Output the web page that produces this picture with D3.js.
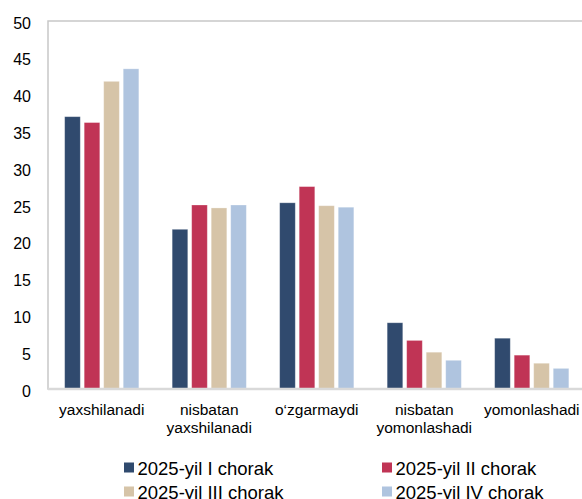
<!DOCTYPE html>
<html><head><meta charset="utf-8">
<script src="https://cdn.jsdelivr.net/npm/d3@7"></script>
<style>body{margin:0;background:#fff;overflow:hidden}svg{display:block}</style>
</head><body>
<script>
const categories = [["yaxshilanadi"],["nisbatan","yaxshilanadi"],["o‘zgarmaydi"],["nisbatan","yomonlashadi"],["yomonlashadi"]];
const seriesNames = ["2025-yil I chorak","2025-yil II chorak","2025-yil III chorak","2025-yil IV chorak"];
const colors = ["#304a6e","#c03455","#d6c4a8","#afc4df"];
const s1 = [37.0, 21.7, 25.3, 9.0, 6.9];
const s2 = [36.2, 25.0, 27.5, 6.6, 4.6];
const s3 = [41.8, 24.6, 24.9, 5.0, 3.5];
const s4 = [43.5, 25.0, 24.7, 3.9, 2.8];
const series = [s1, s2, s3, s4];
const yTicks = [0,5,10,15,20,25,30,35,40,45,50];

const W = 582, H = 499;
const svg = d3.select("body").append("svg").attr("width", W).attr("height", H);
const font = "Liberation Sans, Arial, sans-serif";
const pL = 48, pR = 585.5, pT = 21, pB = 389;

const x0 = d3.scaleBand().domain(categories.map((d,i)=>i)).range([pL, pR]).paddingInner(0.31).paddingOuter(0.155);
const x1 = d3.scaleBand().domain(d3.range(series.length)).range([0, x0.bandwidth()]).paddingInner(0.2);
const y = d3.scaleLinear().domain([0, 50]).range([pB, pT]);

// plot frame
svg.append("rect").attr("x", pL).attr("y", pT).attr("width", 600).attr("height", pB-pT)
  .attr("fill","none").attr("stroke","#c8c8c8").attr("stroke-width",1.5);

// bars
const g = svg.append("g");
categories.forEach((c, i) => {
  series.forEach((s, j) => {
    g.append("rect")
      .attr("x", x0(i) + x1(j))
      .attr("y", y(s[i]))
      .attr("width", x1.bandwidth())
      .attr("height", y(0) - y(s[i]))
      .attr("fill", colors[j])
      .attr("stroke", "rgba(255,255,255,0.35)").attr("stroke-width", 0.8);
  });
});

// x axis line
svg.append("line").attr("x1", pL).attr("x2", W).attr("y1", pB).attr("y2", pB)
  .attr("stroke","#d9d9d9").attr("stroke-width",2.5);

// y axis
const yAxis = d3.axisLeft(y).tickValues(yTicks).tickSize(0).tickPadding(0).tickFormat(d3.format("d"));
const ya = svg.append("g").attr("transform", `translate(31,2)`).call(yAxis);
ya.select(".domain").remove();
ya.selectAll("text").attr("font-family", font).attr("font-size", 16).attr("fill","#000");

// category labels
categories.forEach((c, i) => {
  const cx = x0(i) + x0.bandwidth()/2;
  const t = svg.append("text").attr("x", cx).attr("y", 415).attr("text-anchor","middle")
    .attr("font-family", font).attr("font-size", 15.5).attr("fill","#000");
  c.forEach((line, k) => t.append("tspan").attr("x", cx).attr("dy", k ? 17.5 : 0).text(line));
});

// legend
const legPos = [[124,468],[382,468],[124,492],[382,492]];
seriesNames.forEach((n, j) => {
  const [lx, ly] = legPos[j];
  svg.append("rect").attr("x", lx).attr("y", ly-5.5).attr("width", 10).attr("height", 10).attr("fill", colors[j]);
  svg.append("text").attr("x", lx+13.5).attr("y", ly+6.5).attr("font-family", font).attr("font-size", 18.5)
    .attr("fill","#000").text(n);
});
</script>
</body></html>
